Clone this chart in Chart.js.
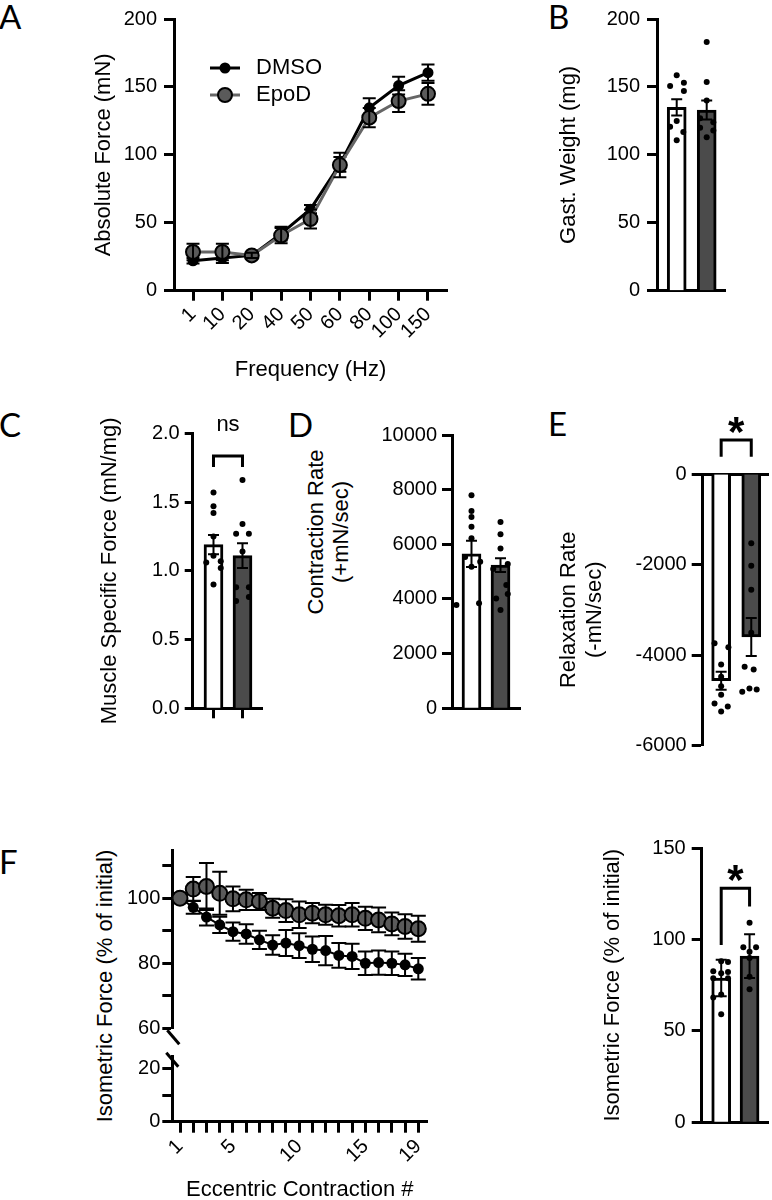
<!DOCTYPE html>
<html>
<head>
<meta charset="utf-8">
<title>Muscle function, DMSO vs EpoD</title>
<script src="https://cdn.jsdelivr.net/npm/chart.js@4.4.0/dist/chart.umd.min.js"></script>
<style>
  body { margin: 0; width: 772px; height: 1200px; overflow: hidden; background: #fff; position: relative; }
  canvas { position: absolute; left: 0; top: 0; }
  .tag { position: absolute; font: 33px/33px Lato, 'Open Sans', sans-serif; color: #000; }
  .vt { position: absolute; transform: translate(-50%, -50%) rotate(-90deg); white-space: nowrap; text-align: center;
        font: 22px/25px 'Liberation Sans', Arial, sans-serif; color: #000; }
</style>
</head>
<body>
<div class="tag" style="left:-1px;top:0px">A</div>
<div class="tag" style="left:548px;top:0px">B</div>
<div class="tag" style="left:-1px;top:408px">C</div>
<div class="tag" style="left:288px;top:408px">D</div>
<div class="tag" style="left:548px;top:407px">E</div>
<div class="tag" style="left:-1px;top:845px">F</div>
<div class="vt" style="left:328px;top:532px">Contraction Rate<br>(+mN/sec)</div>
<div class="vt" style="left:104px;top:986px">Isometric Force (% of initial)</div>
<script>
// values

// A: force-frequency
const freqLabels = ['1', '10', '20', '40', '50', '60', '80', '100', '150'];
const forceDmso = [22, 24, 26, 42, 60, 93, 134.6, 151, 160.5];
const forceDmsoSem = [2, 3.6, 2, 5, 3, 5.5, 7, 6.5, 6];
const forceEpod = [28.5, 28.5, 26, 40.6, 52.8, 92.5, 127.4, 139.6, 144.9];
const forceEpodSem = [6, 6, 2, 5.6, 7, 9, 7, 8, 8];

// B: gastrocnemius weight (mg)
const weightMean = [135, 133];
const weightSem = [6, 7];
const weightDmso = [158.6, 150.6, 153, 147, 125, 120.6, 116.9, 110.8];
const weightDmsoJit = [0, -0.22, 0.24, 0.24, 0, -0.22, 0.22, 0];
const weightEpod = [183, 153.7, 140, 127, 124, 120, 118, 113];
const weightEpodJit = [0, 0, 0, -0.22, 0.22, -0.22, 0.22, 0];

// C: specific force (mN/mg)
const specMean = [1.19, 1.11];
const specSem = [0.07, 0.09];
const specDmso = [1.57, 1.47, 1.42, 1.25, 1.11, 1.06, 1.07, 1.02, 0.90];
const specDmsoJit = [0, 0, 0, 0, 0, -0.25, 0.25, 0.25, 0];
const specEpod = [1.66, 1.34, 1.27, 1.27, 1.14, 0.88, 0.88, 0.81, 0.78];
const specEpodJit = [0, 0, -0.22, 0.22, 0, -0.22, 0.22, 0.22, -0.22];

// D: contraction rate (+mN/sec)
const contrMean = [5650, 5240];
const contrSem = [480, 250];
const contrDmso = [7800, 7220, 7000, 6640, 6220, 5540, 5360, 5180, 3780, 3840];
const contrDmsoJit = [0, 0, 0, 0, 0, -0.22, 0.3, 0, -0.52, 0.26];
const contrEpod = [6820, 6370, 5850, 5280, 5100, 4510, 4180, 4020, 3600];
const contrEpodJit = [0, 0, 0, 0.25, -0.25, 0.2, 0.25, -0.15, 0];

// E: relaxation rate (-mN/sec)
const relaxMean = [-4570, -3600];
const relaxSem = [200, 420];
const relaxDmso = [-3740, -3830, -4210, -4480, -4690, -4880, -5070, -5140, -5250];
const relaxDmsoJit = [-0.22, 0.24, 0, 0, 0, 0, -0.22, 0.22, 0];
const relaxEpod = [-1530, -2030, -2560, -3510, -4260, -4320, -4810, -4740, -4760];
const relaxEpodJit = [0, 0, 0, 0, -0.22, 0.08, -0.3, -0.06, 0.18];

// F: eccentric contractions, % of initial
const eccTicks = [1, 2, 3, 4, 5, 6, 7, 8, 9, 10, 11, 12, 13, 14, 15, 16, 17, 18, 19];
const eccLabels = [1, 5, 10, 15, 19];
const eccDmso = [100, 97.2, 94.2, 91.8, 89.7, 89.0, 87.2, 85.6, 86.2, 85.4, 84.3, 83.9, 82.4, 82.1, 80.0, 80.2, 80.0, 79.5, 78.3];
const eccDmsoSem = [0, 2, 2.6, 2.5, 2.8, 3, 2.8, 3, 4, 3.8, 3.9, 4.5, 3.8, 3.9, 3.6, 3.7, 3.6, 3.4, 3.3];
const eccEpod = [100, 102.8, 103.6, 101.5, 99.8, 99.5, 99.0, 96.9, 96.2, 94.9, 95.4, 94.9, 94.6, 94.9, 93.8, 93.3, 92.1, 91.3, 90.6];
const eccEpodSem = [0, 3.7, 7.2, 6.6, 3.8, 3.1, 2.6, 2.9, 3.5, 4.1, 3.1, 3.1, 3.3, 3.6, 3.6, 3.8, 3.5, 3.8, 4];
const upperTicks = [60, 70, 80, 90, 100, 110];
const upperLabels = [60, 80, 100];
const lowerTicks = [0, 10, 20];
const lowerLabels = [0, 20];

// F right: force after last contraction
const eccEndMean = [79, 91];
const eccEndErr = [10, 12];
const eccEndDmso = [88.2, 82.7, 87.8, 82.3, 81.6, 78.9, 78.9, 70, 68.3, 59.1];
const eccEndDmsoJit = [0, -0.28, 0.24, 0.24, 0, -0.28, 0.24, 0, -0.28, 0];
const eccEndEpod = [109.3, 95.8, 95.8, 93.4, 90, 79.7, 72.8];
const eccEndEpodJit = [0, -0.22, 0.23, 0, 0, 0, 0];

// look
const BLACK = '#000', DARK = '#4b4b4b', MID = '#5a5a5a', LINEGRAY = '#666';
const PAGE_W = 772, PAGE_H = 1220;
const FONT = "'Liberation Sans', Arial, sans-serif";

Chart.defaults.font.family = FONT;
Chart.defaults.font.size = 20;
Chart.defaults.color = '#000';

function newCanvas() {
    const c = document.createElement('canvas');
    c.width = PAGE_W;
    c.height = PAGE_H;
    document.body.appendChild(c);
    return c;
}

// every chart sits on a full page canvas, so padding is page coordinates
function pad(L, T, R, B, W, H) {
    return { left: L - W, top: T, right: PAGE_W - R, bottom: PAGE_H - B - H };
}

function axisStyle(tickLen) {
    return {
        border: { display: true, width: 3, color: BLACK },
        grid: { drawOnChartArea: false, drawTicks: tickLen > 0, tickLength: tickLen, tickWidth: 3,
                tickColor: BLACK, color: BLACK, offset: false }
    };
}

function yTitle(text) {
    return text ? { display: true, text: text, font: { size: 22 }, padding: 0 } : { display: false };
}

// mean +/- error with caps, drawn right after its dataset
const errorBars = {
    id: 'errorBars',
    afterDatasetDraw(chart, args) {
        const ds = chart.data.datasets[args.index];
        if (!ds.errors) return;
        const ys = chart.scales[args.meta.yAxisID];
        const ctx = chart.ctx;
        const half = (ds.capWidth || 10) / 2;
        ctx.save();
        ctx.strokeStyle = BLACK;
        ctx.lineWidth = 2;
        args.meta.data.forEach((el, j) => {
            const e = ds.errors[j];
            if (!e) return;
            const v = ds.data[j].y;
            const top = ys.getPixelForValue(v + e);
            const bot = ys.getPixelForValue(v - e);
            ctx.beginPath();
            ctx.moveTo(el.x, top); ctx.lineTo(el.x, bot);
            ctx.moveTo(el.x - half, top); ctx.lineTo(el.x + half, top);
            ctx.moveTo(el.x - half, bot); ctx.lineTo(el.x + half, bot);
            ctx.stroke();
        });
        ctx.restore();
    }
};

// significance bracket with its label
const sigBracket = {
    id: 'sigBracket',
    afterDraw(chart, args, o) {
        if (!o || !o.text) return;
        const xs = chart.scales.x, ys = chart.scales.y, ctx = chart.ctx;
        const xa = xs.getPixelForValue(o.x1), xb = xs.getPixelForValue(o.x2);
        const yh = ys.getPixelForValue(o.y);
        ctx.save();
        ctx.strokeStyle = BLACK;
        ctx.lineWidth = 3;
        ctx.lineJoin = 'miter';
        ctx.beginPath();
        ctx.moveTo(xa, ys.getPixelForValue(o.leg1));
        ctx.lineTo(xa, yh);
        ctx.lineTo(xb, yh);
        ctx.lineTo(xb, ys.getPixelForValue(o.leg2));
        ctx.stroke();
        ctx.fillStyle = BLACK;
        ctx.font = o.font;
        ctx.textAlign = 'center';
        ctx.textBaseline = 'alphabetic';
        ctx.fillText(o.text, (xa + xb) / 2, ys.getPixelForValue(o.textY));
        ctx.restore();
    }
};

// legend with a line sample and marker, like the original
const lineLegend = {
    id: 'lineLegend',
    afterDraw(chart, args, o) {
        if (!o || !o.show) return;
        const ctx = chart.ctx;
        chart.data.datasets.forEach((ds, k) => {
            const y = o.y + k * o.gap;
            ctx.save();
            ctx.strokeStyle = ds.borderColor;
            ctx.lineWidth = ds.borderWidth;
            ctx.beginPath(); ctx.moveTo(o.x, y); ctx.lineTo(o.x + o.len, y); ctx.stroke();
            ctx.beginPath(); ctx.arc(o.x + o.len / 2, y, ds.pointRadius, 0, 2 * Math.PI);
            ctx.fillStyle = ds.pointBackgroundColor; ctx.fill();
            if (ds.pointBorderWidth) {
                ctx.lineWidth = ds.pointBorderWidth; ctx.strokeStyle = ds.pointBorderColor; ctx.stroke();
            }
            ctx.fillStyle = BLACK;
            ctx.font = o.font;
            ctx.textBaseline = 'middle';
            ctx.fillText(ds.label, o.x + o.len + o.pad, y);
            ctx.restore();
        });
    }
};

// slash marking the broken y axis in F
const axisBreak = {
    id: 'axisBreak',
    afterDraw(chart, args, o) {
        if (!o || !o.edge) return;
        const a = chart.chartArea, ctx = chart.ctx;
        const x = a.left + o.dx;
        const y = (o.edge === 'bottom' ? a.bottom : a.top) + o.dy;
        ctx.save();
        ctx.strokeStyle = BLACK;
        ctx.lineWidth = 3;
        ctx.beginPath(); ctx.moveTo(x - 6, y - 7); ctx.lineTo(x + 6, y + 7); ctx.stroke();
        ctx.restore();
    }
};

Chart.register(errorBars, sigBracket, lineLegend, axisBreak);

const quiet = { legend: { display: false }, tooltip: { enabled: false } };

function barPanel(f, d) {
    const dots = [];
    d.dots.forEach((arr, g) => arr.forEach((v, k) => dots.push({ x: g + d.jitter[g][k], y: v })));
    return new Chart(newCanvas(), {
        type: 'bar',
        data: {
            datasets: [
                { data: d.mean.map((v, i) => ({ x: i, y: v })), backgroundColor: ['#fff', DARK],
                  borderColor: BLACK, borderWidth: 3, barThickness: 19,
                  errors: d.err, capWidth: 11, order: 2 },
                { type: 'scatter', data: dots, pointRadius: 3, pointBackgroundColor: BLACK,
                  pointBorderWidth: 0, order: 1 }
            ]
        },
        options: {
            responsive: false,
            animation: false,
            layout: { padding: pad(f.L, f.T, f.R, f.B, f.W, f.H) },
            plugins: Object.assign({ sigBracket: d.sig || {} }, quiet),
            scales: {
                x: Object.assign({
                    type: 'linear', position: f.xPos || 'bottom', min: f.xmin, max: f.xmax, offset: false,
                    afterBuildTicks: s => { s.ticks = [{ value: 0 }, { value: 1 }]; },
                    afterFit: s => { s.height = f.H; },
                    ticks: { display: f.H > 0, callback: () => '' }
                }, axisStyle(f.H)),
                y: Object.assign({
                    min: f.ymin, max: f.ymax,
                    afterFit: s => { s.width = f.W; },
                    ticks: { stepSize: f.step, padding: f.tpad, callback: f.fmt || (v => String(v)) },
                    title: yTitle(f.title)
                }, axisStyle(f.tl))
            }
        }
    });
}

// A
new Chart(newCanvas(), {
    type: 'line',
    data: {
        datasets: [
            { label: 'DMSO', data: forceDmso.map((v, i) => ({ x: i, y: v })), borderColor: BLACK, borderWidth: 3,
              pointRadius: 5.5, pointBackgroundColor: BLACK, pointBorderColor: BLACK, pointBorderWidth: 0,
              errors: forceDmsoSem, capWidth: 13, order: 2 },
            { label: 'EpoD', data: forceEpod.map((v, i) => ({ x: i, y: v })), borderColor: LINEGRAY, borderWidth: 3,
              pointRadius: 7, pointBackgroundColor: MID, pointBorderColor: BLACK, pointBorderWidth: 2,
              errors: forceEpodSem, capWidth: 13, order: 1 }
        ]
    },
    options: {
        responsive: false,
        animation: false,
        layout: { padding: pad(174, 17, 447, 290.7, 83.2, 92.5) },
        plugins: Object.assign({
            lineLegend: { show: true, x: 210, y: 68, gap: 27, len: 30, pad: 16, font: '22px ' + FONT }
        }, quiet),
        scales: {
            x: Object.assign({
                type: 'linear', min: -0.647, max: 8.647, offset: false,
                afterBuildTicks: s => { s.ticks = freqLabels.map((_, i) => ({ value: i })); },
                afterFit: s => { s.height = 92.5; },
                ticks: { callback: v => freqLabels[v], minRotation: 45, maxRotation: 45, autoSkip: false, padding: 2 },
                title: { display: true, text: 'Frequency (Hz)', font: { size: 22 }, padding: 0 }
            }, axisStyle(10)),
            y: Object.assign({
                min: 0, max: 200,
                afterFit: s => { s.width = 83.2; },
                ticks: { stepSize: 50, padding: 7 },
                title: yTitle('Absolute Force (mN)')
            }, axisStyle(10))
        }
    }
});

// B
barPanel({ L: 657, T: 16.7, R: 725, B: 290.7, W: 101.7, H: 0, xmin: -0.657, xmax: 1.61,
           ymin: 0, ymax: 200, step: 50, tpad: 7, tl: 10, title: 'Gast. Weight (mg)' },
         { mean: weightMean, err: weightSem, dots: [weightDmso, weightEpod], jitter: [weightDmsoJit, weightEpodJit] });

// C
barPanel({ L: 192.7, T: 433.3, R: 263, B: 708.3, W: 95.9, H: 10, xmin: -0.717, xmax: 1.707,
           ymin: 0, ymax: 2, step: 0.5, tpad: 5, tl: 8, title: 'Muscle Specific Force (mN/mg)', fmt: v => v.toFixed(1) },
         { mean: specMean, err: specSem, dots: [specDmso, specEpod], jitter: [specDmsoJit, specEpodJit],
           sig: { x1: 0, x2: 1, y: 1.835, leg1: 1.755, leg2: 1.755, text: 'ns', textY: 2.019, font: '22px ' + FONT } });

// D (axis title is the html block above)
barPanel({ L: 452, T: 435, R: 520, B: 708.3, W: 95, H: 0, xmin: -0.672, xmax: 1.672,
           ymin: 0, ymax: 10000, step: 2000, tpad: 5, tl: 10 },
         { mean: contrMean, err: contrSem, dots: [contrDmso, contrEpod], jitter: [contrDmsoJit, contrEpodJit] });

// E
barPanel({ L: 702.7, T: 474, R: 771, B: 745.5, W: 147.3, H: 0, xPos: 'top', xmin: -0.613, xmax: 1.556,
           ymin: -6000, ymax: 0, step: 2000, tpad: 5, tl: 11, title: ['Relaxation Rate', '(-mN/sec)'] },
         { mean: relaxMean, err: relaxSem, dots: [relaxDmso, relaxEpod], jitter: [relaxDmsoJit, relaxEpodJit],
           sig: { x1: 0, x2: 1, y: 751, leg1: 382, leg2: 382, text: '*', textY: 627, font: 'bold 42px ' + FONT } });

// F, upper part of the broken axis
new Chart(newCanvas(), {
    type: 'line',
    data: {
        datasets: [
            { label: 'DMSO', data: eccDmso.map((v, i) => ({ x: eccTicks[i], y: v })), borderColor: BLACK, borderWidth: 2,
              pointRadius: 5.5, pointBackgroundColor: BLACK, pointBorderWidth: 0,
              errors: eccDmsoSem, capWidth: 15, order: 2 },
            { label: 'EpoD', data: eccEpod.map((v, i) => ({ x: eccTicks[i], y: v })), borderColor: LINEGRAY, borderWidth: 2,
              pointRadius: 7.5, pointBackgroundColor: MID, pointBorderColor: BLACK, pointBorderWidth: 2,
              errors: eccEpodSem, capWidth: 15, order: 1 }
        ]
    },
    options: {
        responsive: false,
        animation: false,
        layout: { padding: pad(172.3, 850.7, 427.3, 1028.3, 60, 0) },
        plugins: Object.assign({ axisBreak: { edge: 'bottom', dx: 1, dy: 9 } }, quiet),
        scales: {
            x: { type: 'linear', display: false, min: 0.418, max: 19.68 },
            y: Object.assign({
                min: 60, max: 114.6,
                afterBuildTicks: s => { s.ticks = upperTicks.map(v => ({ value: v })); },
                afterFit: s => { s.width = 60; },
                ticks: { padding: 2, callback: v => upperLabels.includes(v) ? String(v) : '' }
            }, axisStyle(10))
        }
    }
});

// F, lower part with the x axis
new Chart(newCanvas(), {
    type: 'line',
    data: { datasets: [] },
    options: {
        responsive: false,
        animation: false,
        layout: { padding: pad(172.3, 1056.7, 427.3, 1121.7, 60, 81.5) },
        plugins: Object.assign({ axisBreak: { edge: 'top', dx: 0, dy: 3 } }, quiet),
        scales: {
            x: Object.assign({
                type: 'linear', min: 0.418, max: 19.68, offset: false,
                afterBuildTicks: s => { s.ticks = eccTicks.map(v => ({ value: v })); },
                afterFit: s => { s.height = 81.5; },
                ticks: { callback: v => eccLabels.includes(v) ? String(v) : '', minRotation: 45, maxRotation: 45,
                         autoSkip: false, padding: 2 },
                title: { display: true, text: 'Eccentric Contraction #', font: { size: 22 }, padding: 0 }
            }, axisStyle(11)),
            y: Object.assign({
                min: 0, max: 24.4,
                afterBuildTicks: s => { s.ticks = lowerTicks.map(v => ({ value: v })); },
                afterFit: s => { s.width = 60; },
                ticks: { padding: 2, callback: v => lowerLabels.includes(v) ? String(v) : '' }
            }, axisStyle(10))
        }
    }
});

// F right
barPanel({ L: 701.7, T: 848.3, R: 770.7, B: 1122.3, W: 101.6, H: 0, xmin: -0.688, xmax: 1.65,
           ymin: 0, ymax: 150, step: 50, tpad: 6, tl: 10, title: 'Isometric Force (% of initial)' },
         { mean: eccEndMean, err: eccEndErr, dots: [eccEndDmso, eccEndEpod], jitter: [eccEndDmsoJit, eccEndEpodJit],
           sig: { x1: 0, x2: 1, y: 128.1, leg1: 97.1, leg2: 118.1, text: '*', textY: 125, font: 'bold 42px ' + FONT } });
</script>
</body>
</html>
